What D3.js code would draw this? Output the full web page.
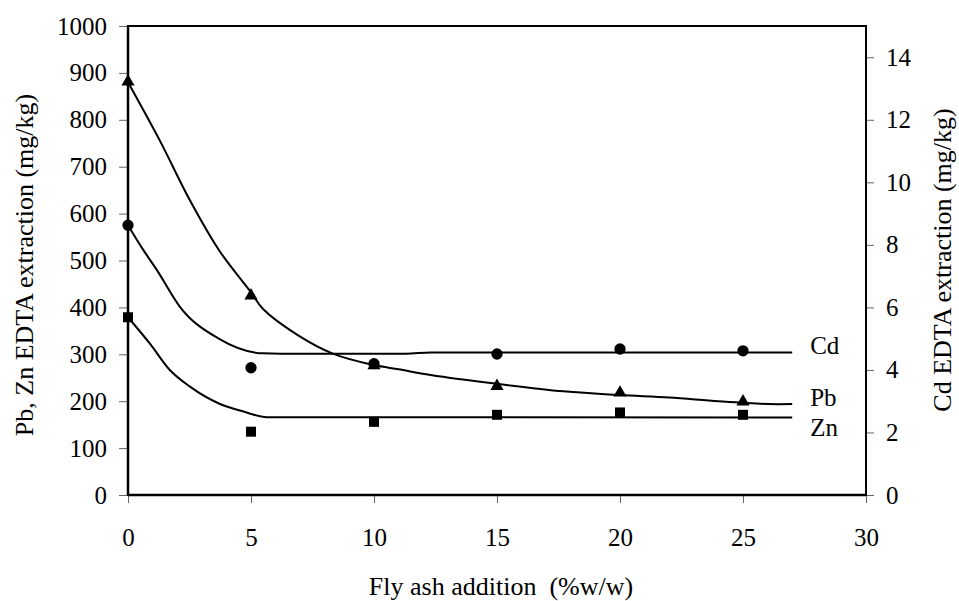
<!DOCTYPE html>
<html>
<head>
<meta charset="utf-8">
<script src="https://cdn.jsdelivr.net/npm/d3@7"></script>
<style>
  html, body { margin: 0; padding: 0; background: #fff; }
  svg text { font-family: "Liberation Serif", "Times New Roman", serif; fill: #000; }
</style>
</head>
<body>
<svg id="chart" width="959" height="601"></svg>
<script>
// ---- data ----
const flyAsh = [0, 5, 10, 15, 20, 25];
const pbValues = [881, 425, 276, 232, 218, 199];   // mg/kg, left axis
const znValues = [379, 135, 156, 171, 176, 171];   // mg/kg, left axis
const cdValues = [8.63, 4.07, 4.2, 4.51, 4.67, 4.61]; // mg/kg, right axis

// fitted trend curves (x, value)
const pbFitX = [0, 1.3, 2.5, 3.7, 5, 5.5, 6.9, 8.35, 10, 11, 12.3, 15, 17.7, 20, 22, 24, 26, 27];
const pbFitY = [880, 755, 630, 522, 432, 396, 341, 301, 277, 268, 256, 237, 221, 213, 208, 200, 194, 194];
const znFitX = [0, 0.9, 1.71, 2.52, 3.74, 4.69, 5.64, 27];
const znFitY = [379, 322, 266, 231, 194, 178, 166, 165];
const cdFitX = [0, 0.62, 1.17, 2.11, 3.67, 5.5, 6.2, 11.3, 12.3, 27];
const cdFitY = [8.63, 7.84, 7.2, 6.02, 5.01, 4.53, 4.52, 4.52, 4.56, 4.56];

const xTicks = [0, 5, 10, 15, 20, 25, 30];
const yLeftTicks = [0, 100, 200, 300, 400, 500, 600, 700, 800, 900, 1000];
const yRightTicks = [0, 2, 4, 6, 8, 10, 12, 14];

const seriesLabels = [
  { name: "Cd", x: 27, value: 300 },
  { name: "Pb", x: 27, value: 190 },
  { name: "Zn", x: 27, value: 125 }
];

// ---- layout ----
const W = 959, H = 601;
const margin = { top: 26, right: 93, bottom: 106, left: 128 };
const iw = W - margin.left - margin.right;
const ih = H - margin.top - margin.bottom;

const svg = d3.select("#chart");
const g = svg.append("g").attr("transform", `translate(${margin.left},${margin.top})`);

const x = d3.scaleLinear().domain([0, 30]).range([0, iw]);
const yL = d3.scaleLinear().domain([0, 1000]).range([ih, 0]);
const yR = d3.scaleLinear().domain([0, 15]).range([ih, 0]);

const FS = 25;

// axes
const xAxis = g.append("g").attr("transform", `translate(0,${ih})`)
  .call(d3.axisBottom(x).tickValues(xTicks).tickSize(8).tickSizeOuter(0).tickPadding(25).tickFormat(d3.format("d")));
const yAxisL = g.append("g")
  .call(d3.axisLeft(yL).tickValues(yLeftTicks).tickSize(9).tickSizeOuter(0).tickPadding(12).tickFormat(d3.format("d")));
const yAxisR = g.append("g").attr("transform", `translate(${iw},0)`)
  .call(d3.axisRight(yR).tickValues(yRightTicks).tickSize(8).tickSizeOuter(0).tickPadding(12).tickFormat(d3.format("d")));

[xAxis, yAxisL, yAxisR].forEach(a => {
  a.selectAll("text").style("font-size", FS + "px").style("font-family", '"Liberation Serif", serif').attr("fill", "#000");
  a.selectAll(".tick line").attr("stroke", "#666").attr("stroke-width", 1);
  a.select(".domain").remove();
});

// frame
g.append("rect").attr("x", 0).attr("y", 0).attr("width", iw).attr("height", ih)
  .attr("fill", "none").attr("stroke", "#000").attr("stroke-width", 2);
g.append("line").attr("x1", 0).attr("x2", 0).attr("y1", 0).attr("y2", ih).attr("stroke", "#000").attr("stroke-width", 2.5);
g.append("line").attr("x1", 0).attr("x2", iw).attr("y1", ih).attr("y2", ih).attr("stroke", "#000").attr("stroke-width", 2.5);

// fitted curves
const lineL = d3.line().x(d => x(d[0])).y(d => yL(d[1])).curve(d3.curveCatmullRom.alpha(0.5));
const lineR = d3.line().x(d => x(d[0])).y(d => yR(d[1])).curve(d3.curveMonotoneX);
const zip = (a, b) => a.map((v, i) => [v, b[i]]);

g.append("path").datum(zip(pbFitX, pbFitY)).attr("d", lineL)
  .attr("fill", "none").attr("stroke", "#000").attr("stroke-width", 2);
g.append("path").datum(zip(znFitX, znFitY)).attr("d", d3.line().x(d => x(d[0])).y(d => yL(d[1])).curve(d3.curveMonotoneX))
  .attr("fill", "none").attr("stroke", "#000").attr("stroke-width", 2);
g.append("path").datum(zip(cdFitX, cdFitY)).attr("d", lineR)
  .attr("fill", "none").attr("stroke", "#000").attr("stroke-width", 2);

// markers
const tri = d3.symbol().type(d3.symbolTriangle).size(75);
const sq = d3.symbol().type(d3.symbolSquare).size(100);
const circ = d3.symbol().type(d3.symbolCircle).size(100);

g.selectAll(".cd").data(zip(flyAsh, cdValues)).enter().append("path")
  .attr("d", circ).attr("transform", d => `translate(${x(d[0])},${yR(d[1])})`).attr("fill", "#000");
g.selectAll(".pb").data(zip(flyAsh, pbValues)).enter().append("path")
  .attr("d", tri).attr("transform", d => `translate(${x(d[0])},${yL(d[1])})`).attr("fill", "#000");
g.selectAll(".zn").data(zip(flyAsh, znValues)).enter().append("path")
  .attr("d", sq).attr("transform", d => `translate(${x(d[0])},${yL(d[1])})`).attr("fill", "#000");

// series labels
g.selectAll(".slab").data(seriesLabels).enter().append("text")
  .attr("x", d => x(d.x) + 18).attr("y", d => yL(d.value))
  .style("font-size", FS + "px").text(d => d.name);

// axis titles
svg.append("text").attr("transform", `translate(33,265) rotate(-90)`)
  .attr("text-anchor", "middle").style("font-size", "26px")
  .text("Pb, Zn EDTA extraction (mg/kg)");
svg.append("text").attr("transform", `translate(951,260) rotate(-90)`)
  .attr("text-anchor", "middle").style("font-size", "26px")
  .text("Cd EDTA extraction (mg/kg)");
svg.append("text").attr("x", margin.left + iw / 2 + 4).attr("y", 595)
  .attr("text-anchor", "middle").style("font-size", "26px").style("white-space", "pre")
  .text("Fly ash addition  (%w/w)");
</script>
</body>
</html>
